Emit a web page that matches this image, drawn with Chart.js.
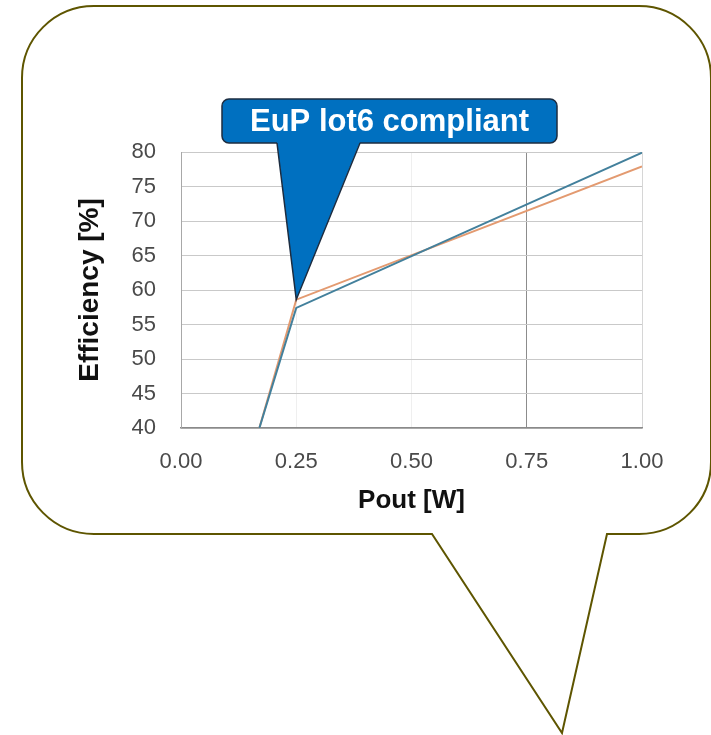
<!DOCTYPE html>
<html>
<head>
<meta charset="utf-8">
<style>
  html, body { margin: 0; padding: 0; background: #ffffff; }
  #chart { display: block; }
</style>
<script src="https://cdn.jsdelivr.net/npm/chart.js@4"></script>
</head>
<body>
<canvas id="chart" width="711" height="735"></canvas>
<script>
// Data
var pout = [0.17, 0.25, 1.0];
var effBlue = [40, 57.4, 79.9];
var effOrange = [40, 58.6, 77.9];
var xTicks = [0, 0.25, 0.5, 0.75, 1.0];
var calloutText = "EuP lot6 compliant";

var FONT = "'Liberation Sans', Arial, sans-serif";

function points(xs, ys) {
  return xs.map(function (x, i) { return { x: x, y: ys[i] }; });
}

// Speech bubble drawn behind the chart
var bubble = {
  id: "bubble",
  beforeDraw: function (chart) {
    var c = chart.ctx;
    var l = 22, t = 6, r = 711, b = 534, rad = 72;
    c.save();
    c.beginPath();
    c.moveTo(l + rad, t);
    c.lineTo(r - rad, t);
    c.arcTo(r, t, r, t + rad, rad);
    c.lineTo(r, b - rad);
    c.arcTo(r, b, r - rad, b, rad);
    c.lineTo(607, b);
    c.lineTo(562, 733);
    c.lineTo(432, b);
    c.lineTo(l + rad, b);
    c.arcTo(l, b, l, b - rad, rad);
    c.lineTo(l, t + rad);
    c.arcTo(l, t, l + rad, t, rad);
    c.closePath();
    c.fillStyle = "#ffffff";
    c.fill();
    c.lineWidth = 2;
    c.strokeStyle = "#5e5500";
    c.stroke();
    c.restore();
  }
};

// Blue callout pointing at the knee of the curve
var callout = {
  id: "callout",
  afterDraw: function (chart) {
    var c = chart.ctx;
    var tipX = chart.scales.x.getPixelForValue(pout[1]);
    var tipY = chart.scales.y.getPixelForValue(effOrange[1]);
    var bx = 222, by = 99, bw = 335, bh = 44;
    c.save();
    c.fillStyle = "#0070c0";
    c.strokeStyle = "#1c2c40";
    c.lineWidth = 1.5;
    c.beginPath();
    c.roundRect(bx, by, bw, bh, 7);
    c.fill();
    c.stroke();
    // tail
    c.beginPath();
    c.moveTo(277, by + bh - 1);
    c.lineTo(tipX, tipY);
    c.lineTo(360, by + bh - 1);
    c.closePath();
    c.fill();
    c.beginPath();
    c.moveTo(277, by + bh);
    c.lineTo(tipX, tipY);
    c.lineTo(360, by + bh);
    c.stroke();
    c.fillStyle = "#ffffff";
    c.font = "bold 31px " + FONT;
    c.textAlign = "center";
    c.textBaseline = "middle";
    c.fillText(calloutText, bx + bw / 2, by + bh / 2 + 1);
    c.restore();
  }
};

var ctx = document.getElementById("chart").getContext("2d");

var myChart = new Chart(ctx, {
  type: "line",
  data: {
    datasets: [
      {
        label: "A",
        data: points(pout, effBlue),
        borderColor: "#43809c",
        borderWidth: 2,
        pointRadius: 0,
        tension: 0
      },
      {
        label: "B",
        data: points(pout, effOrange),
        borderColor: "#e39a70",
        borderWidth: 2,
        pointRadius: 0,
        tension: 0
      }
    ]
  },
  options: {
    responsive: false,
    animation: false,
    layout: { padding: { left: 60, right: 69, top: 152, bottom: 217 } },
    plugins: {
      legend: { display: false },
      tooltip: { enabled: false }
    },
    scales: {
      x: {
        type: "linear",
        min: 0,
        max: 1,
        afterBuildTicks: function (scale) {
          scale.ticks = xTicks.map(function (v) { return { value: v }; });
        },
        afterFit: function (scale) { scale.height = 90; },
        grid: {
          drawTicks: false,
          color: function (c) {
            var v = c.tick ? c.tick.value : 0;
            if (v === 0) return "rgba(0,0,0,0)";
            if (v === 0.75) return "#8c8c8c";
            if (v === 1) return "#d6d6d6";
            return "#efefef";
          }
        },
        border: { color: "#8a8a8a", width: 1.5 },
        ticks: {
          padding: 21,
          color: "#4a4a4a",
          font: { family: FONT, size: 22 },
          callback: function (v) { return Number(v).toFixed(2); }
        },
        title: {
          display: true,
          text: "Pout [W]",
          color: "#111111",
          font: { family: FONT, size: 26, weight: "bold" },
          padding: { top: 0, bottom: 2 }
        }
      },
      y: {
        min: 40,
        max: 80,
        afterFit: function (scale) { scale.width = 121; },
        grid: { drawTicks: false, color: "#c9c9c9" },
        border: { color: "#a8a8a8" },
        ticks: {
          stepSize: 5,
          padding: 25,
          color: "#4a4a4a",
          font: { family: FONT, size: 22 }
        },
        title: {
          display: true,
          text: "Efficiency [%]",
          color: "#111111",
          font: { family: FONT, size: 28, weight: "bold" },
          padding: { top: 13, bottom: 0 }
        }
      }
    }
  },
  plugins: [bubble, callout]
});
</script>
</body>
</html>
